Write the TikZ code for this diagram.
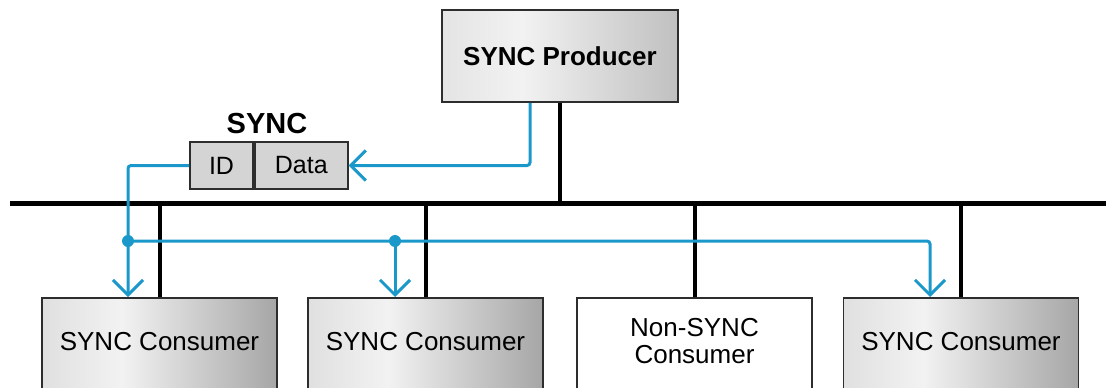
\documentclass[tikz,border=0pt]{standalone}
\usepackage{fontspec}
\setmainfont{Liberation Sans}
\usetikzlibrary{arrows.meta}

\definecolor{sigblue}{RGB}{27,152,202}
\definecolor{framegray}{RGB}{45,45,45}
\definecolor{cellgray}{RGB}{212,212,212}
\definecolor{shadeA}{RGB}{224,224,224}
\definecolor{shadeB}{RGB}{242,242,242}
\definecolor{shadeC}{RGB}{166,166,166}
\definecolor{prodA}{RGB}{228,228,228}
\definecolor{prodB}{RGB}{242,242,242}
\definecolor{prodC}{RGB}{192,192,192}

% left-to-right grey fades for the device boxes (box spans 25bp..75bp)
\pgfdeclarehorizontalshading{consumershade}{100bp}{%
  color(0bp)=(shadeA); color(25bp)=(shadeA); color(42bp)=(shadeB);
  color(75bp)=(shadeC); color(100bp)=(shadeC)}
\pgfdeclarehorizontalshading{producershade}{100bp}{%
  color(0bp)=(prodA); color(25bp)=(prodA); color(42bp)=(prodB);
  color(75bp)=(prodC); color(100bp)=(prodC)}

\tikzset{
  device/.style={draw=framegray, line width=1.8pt, rectangle, inner sep=0pt,
    minimum width=235pt},
  consumer/.style={device, shading=consumershade, minimum height=120pt, anchor=north},
  plainconsumer/.style={device, fill=white, minimum height=120pt, anchor=north},
  producer/.style={device, shading=producershade, minimum width=236pt,
    minimum height=92pt, font=\fontsize{26}{28}\selectfont\bfseries},
  cell/.style={draw=framegray, line width=1.8pt, fill=cellgray, rectangle,
    inner sep=0pt, minimum height=47pt, font=\fontsize{25}{27}\selectfont},
  devtext/.style={font=\fontsize{26}{27}\selectfont, align=center, inner sep=0pt},
  bus/.style={line width=5pt, black},
  drop/.style={line width=4pt, black},
  sig/.style={line width=3pt, sigblue},
  sigarrow/.style={sig, -{Straight Barb[length=15pt, width=30pt]}},
  tapdot/.style={circle, fill=sigblue, inner sep=0pt, minimum size=12pt},
}

\begin{document}
\begin{tikzpicture}[x=1pt, y=-1pt]
  \useasboundingbox (0,0) rectangle (1106,388);
  \clip (0,0) rectangle (1106,388);

  % bus line
  \coordinate (busL) at (10,203);
  \coordinate (busR) at (1110,203);

  % producer
  \node[producer] (prod) at (560,56) {SYNC Producer};

  % SYNC message frame
  \node[font=\fontsize{29}{31}\selectfont\bfseries, inner sep=0pt] (msglabel) at (267,124) {SYNC};
  \node[cell, minimum width=63pt] (idcell) at (221.5,165.5) {ID};
  \node[cell, minimum width=93pt, anchor=west] (datacell) at (idcell.east) {Data};

  % consumers
  \node[consumer] (c1) at (159.5,297) {};
  \node[consumer] (c2) at (425.5,297) {};
  \node[plainconsumer] (c3) at (694.5,297) {};
  \node[consumer] (c4) at (961,297) {};
  \node[devtext] (c1t) at (159.5,342) {SYNC Consumer};
  \node[devtext] (c2t) at (425.5,342) {SYNC Consumer};
  \node[devtext] (c3t) at (694.5,341.5) {Non-SYNC\\Consumer};
  \node[devtext] (c4t) at (961,342) {SYNC Consumer};

  % bus and drops
  \draw[bus] (busL) -- (busR);
  \draw[drop] (prod.south) -- (prod.south |- busL);
  \foreach \c in {c1,c2,c3,c4}
    \draw[drop] (\c.north) -- (\c.north |- busL);

  % SYNC signal path
  \coordinate (px) at (530,0);
  \coordinate (tap1) at (128,241);
  \coordinate (tap2) at (395,241);
  \coordinate (x4) at (930,241);

  \draw[sigarrow, rounded corners=3pt] (prod.south -| px) |- (datacell.east);
  \draw[sigarrow, rounded corners=3pt] (idcell.west) -| (c1.north -| tap1);
  \draw[sigarrow, rounded corners=3pt] (tap1) -- (x4) -- (c4.north -| x4);
  \draw[sigarrow] (tap2) -- (c2.north -| tap2);
  \node[tapdot] (dot1) at (tap1) {};
  \node[tapdot] (dot2) at (tap2) {};
\end{tikzpicture}
\end{document}
